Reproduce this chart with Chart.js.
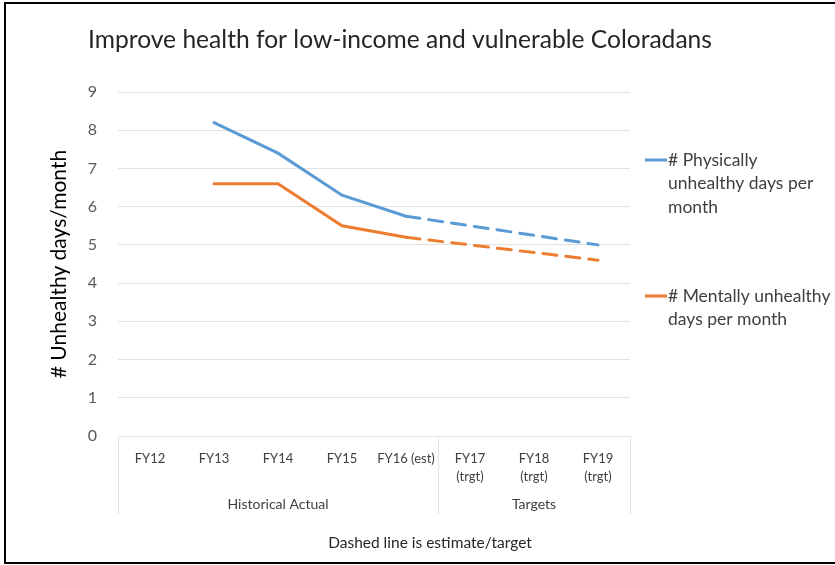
<!DOCTYPE html>
<html>
<head>
<meta charset="utf-8">
<script src="https://cdn.jsdelivr.net/npm/chart.js@4"></script>
<style>
  html, body { margin: 0; padding: 0; background: #fff; }
  #wrap { width: 835px; height: 565px; }
</style>
</head>
<body>
<div id="wrap"><canvas id="myChart" width="835" height="565"></canvas></div>
<script>
// data
var categories = ['FY12', 'FY13', 'FY14', 'FY15', 'FY16 (est)', ['FY17', '(trgt)'], ['FY18', '(trgt)'], ['FY19', '(trgt)']];
var groups = ['Historical Actual', 'Targets'];
var groupSizes = [5, 3];
var physical = [null, 8.2, 7.4, 6.3, 5.75, 5.5, 5.25, 5.0];
var mental = [null, 6.6, 6.6, 5.5, 5.2, 5.0, 4.8, 4.6];
var physicalName = ['# Physically', 'unhealthy days per', 'month'];
var mentalName = ['# Mentally unhealthy', 'days per month'];
var firstEstimate = 4; // dashed from FY16 on

var FONT = 'Lato, "Open Sans", sans-serif';

var dashed = function(ctx) {
  return ctx.p0DataIndex >= firstEstimate ? [14, 9] : undefined;
};

// title, group labels, separators, legend, note and frame
var extras = {
  id: 'extras',
  afterDraw: function(chart) {
    var c = chart.ctx;
    var x = chart.scales.x;
    var area = chart.chartArea;
    var step = x.getPixelForValue(1) - x.getPixelForValue(0);
    c.save();

    // frame
    c.strokeStyle = '#000';
    c.lineWidth = 2;
    c.beginPath();
    c.moveTo(838, 3);
    c.lineTo(5, 3);
    c.lineTo(5, 563);
    c.lineTo(838, 563);
    c.stroke();

    // title
    c.fillStyle = '#262626';
    c.font = '24.6px ' + FONT;
    c.textBaseline = 'middle';
    c.textAlign = 'left';
    c.fillText('Improve health for low-income and vulnerable Coloradans', 88, 40);

    // group separators + labels
    c.strokeStyle = '#e3e3e3';
    c.lineWidth = 1;
    var start = 0;
    var bottom = area.bottom + 78;
    var edges = [start];
    groupSizes.forEach(function(n) { start += n; edges.push(start); });
    edges.forEach(function(i) {
      var px = Math.round(x.getPixelForValue(0) - step / 2 + i * step) + 0.5;
      c.beginPath();
      c.moveTo(px, area.bottom);
      c.lineTo(px, bottom);
      c.stroke();
    });
    c.fillStyle = '#404040';
    c.font = '14px ' + FONT;
    c.textAlign = 'center';
    for (var g = 0; g < groups.length; g++) {
      var a = x.getPixelForValue(0) - step / 2 + edges[g] * step;
      var b = x.getPixelForValue(0) - step / 2 + edges[g + 1] * step;
      c.fillText(groups[g], (a + b) / 2, area.bottom + 68);
    }

    // note
    c.font = '15.5px ' + FONT;
    c.fillStyle = '#262626';
    c.fillText('Dashed line is estimate/target', 430, 543);

    // legend
    c.textAlign = 'left';
    c.font = '17.5px ' + FONT;
    c.fillStyle = '#404040';
    var items = [[chart.data.datasets[0], physicalName, 160], [chart.data.datasets[1], mentalName, 296]];
    items.forEach(function(it) {
      c.strokeStyle = it[0].borderColor;
      c.lineWidth = 3;
      c.beginPath();
      c.moveTo(645, it[2]);
      c.lineTo(667, it[2]);
      c.stroke();
      it[1].forEach(function(t, k) {
        c.fillText(t, 668, it[2] + k * 23.5);
      });
    });
    c.restore();
  }
};

var ctx = document.getElementById('myChart');
var chart = new Chart(ctx, {
  type: 'line',
  data: {
    labels: categories,
    datasets: [{
      label: physicalName.join(' '),
      data: physical,
      borderColor: '#5b9bd5',
      backgroundColor: '#5b9bd5',
      borderWidth: 3,
      pointRadius: 0,
      borderCapStyle: 'round',
      segment: { borderDash: dashed },
      fill: false
    }, {
      label: mentalName.join(' '),
      data: mental,
      borderColor: '#ed7d31',
      backgroundColor: '#ed7d31',
      borderWidth: 3,
      pointRadius: 0,
      borderCapStyle: 'round',
      segment: { borderDash: dashed },
      fill: false
    }]
  },
  options: {
    responsive: false,
    animation: false,
    layout: { padding: { top: 92, left: 0, right: 205, bottom: 0 } },
    plugins: {
      legend: { display: false },
      title: { display: false },
      tooltip: { enabled: false }
    },
    scales: {
      x: {
        offset: true,
        grid: { display: false, drawTicks: false },
        border: { display: false },
        ticks: {
          color: '#404040',
          font: { family: FONT, size: 13, lineHeight: 1.35 },
          padding: 14,
          maxRotation: 0,
          autoSkip: false
        },
        afterFit: function(s) { s.height = 129; }
      },
      y: {
        min: 0,
        max: 9,
        ticks: {
          stepSize: 1,
          color: '#595959',
          font: { family: FONT, size: 16 },
          padding: 21
        },
        grid: { color: '#e3e3e3', drawTicks: false },
        border: { display: false },
        title: {
          display: true,
          text: '# Unhealthy days/month',
          color: '#000',
          font: { family: FONT, size: 21 },
          padding: { top: 47, bottom: 0 }
        },
        afterFit: function(s) { s.width = 118; }
      }
    }
  },
  plugins: [extras]
});
</script>
</body>
</html>
